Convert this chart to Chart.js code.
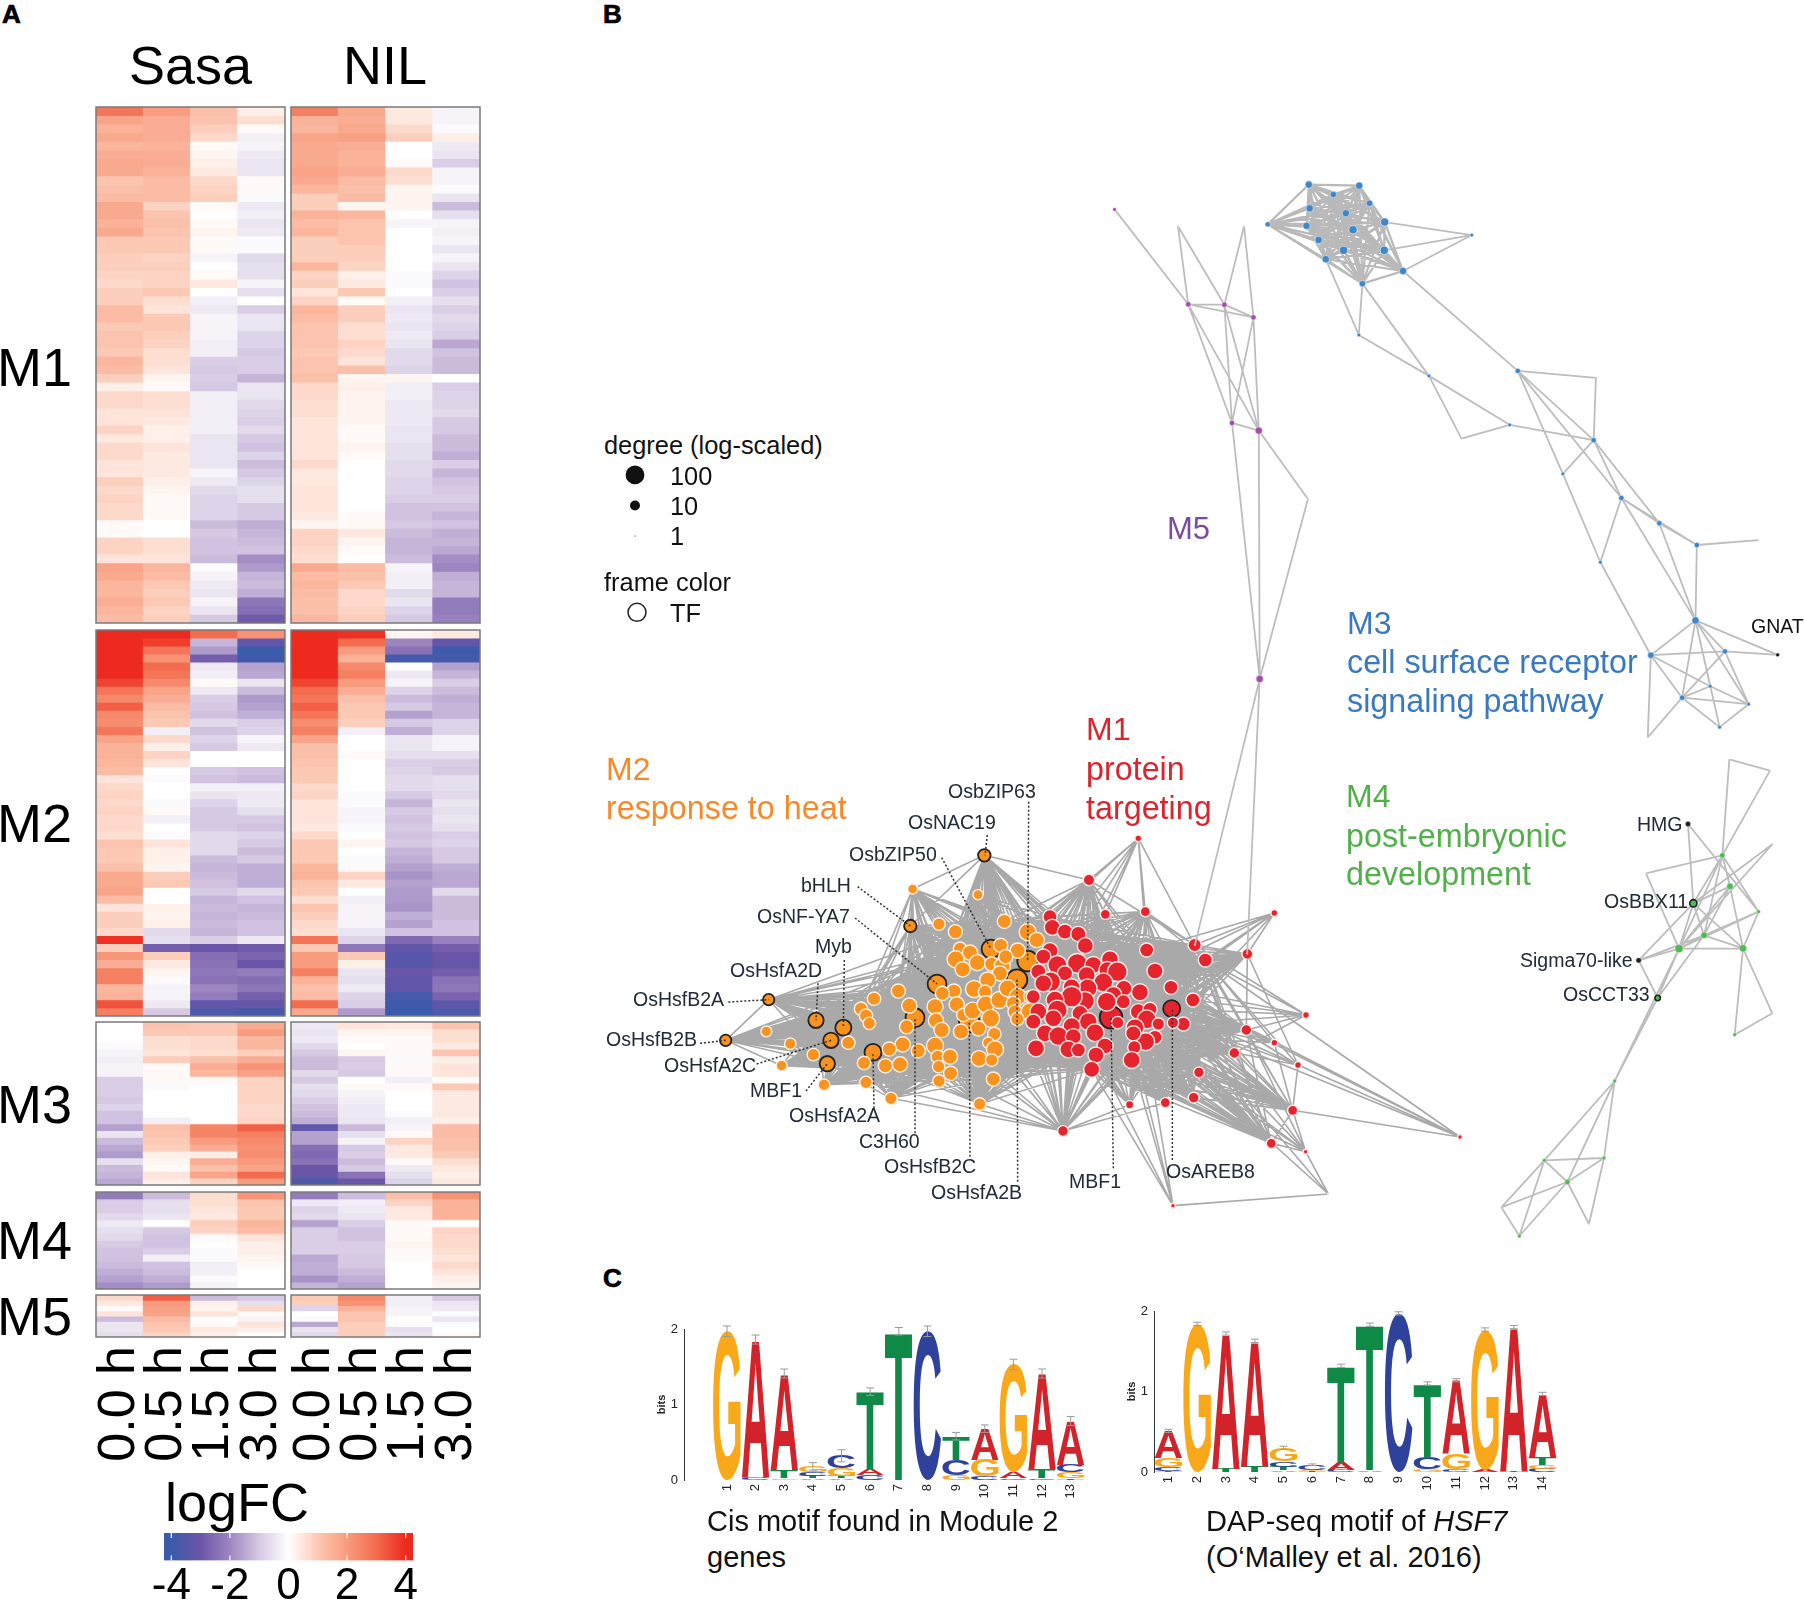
<!DOCTYPE html>
<html>
<head>
<meta charset="utf-8">
<title>Heat response modules</title>
<script src="https://cdn.jsdelivr.net/npm/chart.js@4"></script>
<style>
  html, body { margin: 0; padding: 0; background: #fff; }
  #page { position: relative; width: 1804px; height: 1600px; overflow: hidden; font-family: "Liberation Sans", Arial, sans-serif; }
  #page canvas { position: absolute; }
  .txt { position: absolute; white-space: nowrap; }
</style>
</head>
<body>
<div id="page"></div>
<script>
// Panel A: logFC per gene (row), one list per time point
const timeLabels = ['0.0 h', '0.5 h', '1.5 h', '3.0 h'];

const m1Sasa00 = [2.8,1.8,1.5,1.7,1.4,1.6,1.7,1.7,1.1,1.2,1.3,1.7,1.7,1.5,1.7,1.0,1.0,0.9,0.9,0.8,0.7,0.9,0.9,1.3,1.3,1.0,1.1,1.1,1.0,1.4,1.3,0.9,0.3,0.7,0.7,0.5,0.5,0.8,0.4,0.7,0.7,0.5,0.5,0.9,0.7,0.8,0.7,0.7,0.1,0.1,0.8,0.8,0.5,1.8,1.7,1.4,1.4,1.6,1.4,1.3];
const m1Sasa05 = [2.0,1.6,1.6,1.6,1.5,1.6,1.6,1.5,1.3,1.3,1.3,0.8,1.1,1.2,1.1,1.0,1.0,0.8,0.9,0.8,0.8,1.0,0.6,0.5,1.0,1.0,0.9,0.8,0.6,0.6,0.5,0.2,0.1,0.6,0.6,0.5,0.4,0.3,0.3,0.5,0.4,0.4,0.4,0.3,0.2,0.1,0.1,0.1,0.0,0.0,0.6,0.6,0.5,1.4,1.3,1.0,0.9,1.0,0.8,0.9];
const m1Sasa15 = [1.2,1.1,0.9,0.7,0.1,0.2,0.3,0.4,0.7,0.8,0.9,0.1,0.0,0.1,0.2,0.1,0.1,-0.2,0.0,0.1,0.4,0.0,-0.3,-0.4,-0.2,-0.2,-0.2,-0.3,-0.3,-0.9,-1.0,-0.9,-1.0,-0.3,-0.3,-0.3,-0.3,-0.3,-0.5,-0.5,-0.5,-0.5,-0.2,-0.4,-0.7,-0.8,-0.8,-0.8,-1.2,-1.0,-1.1,-1.1,-1.2,-0.1,-0.2,-0.4,-0.5,-0.2,-0.5,-1.0];
const m1Sasa30 = [0.3,0.6,0.1,-0.3,-0.2,-0.4,-0.5,-0.5,0.1,0.1,-0.1,-0.4,-0.3,-0.5,-0.4,-0.1,-0.1,-0.7,-0.6,-0.6,-0.2,-0.6,0.0,-0.9,-0.5,-0.5,-0.8,-0.8,-1.0,-0.9,-0.9,-1.3,-0.5,-0.5,-0.7,-0.8,-0.9,-0.7,-1.0,-1.1,-0.8,-1.2,-1.0,-0.8,-0.6,-0.6,-1.0,-1.0,-1.4,-1.3,-1.2,-1.1,-1.9,-1.7,-1.3,-1.2,-1.4,-2.3,-2.5,-2.9];
const m1Nil00 = [2.6,1.5,1.4,1.8,1.7,1.7,1.7,1.8,1.7,1.4,0.9,0.9,1.5,1.3,1.4,0.9,0.9,0.9,1.4,0.8,0.9,0.5,0.8,1.4,1.3,1.1,1.1,1.1,1.0,1.1,1.1,1.2,0.7,0.7,0.6,0.6,0.5,0.5,0.5,0.5,0.5,0.7,0.4,0.4,0.5,0.5,0.5,0.4,0.2,0.8,0.8,0.7,0.6,1.7,1.3,1.4,1.3,1.2,1.2,1.4];
const m1Nil05 = [1.7,1.6,1.7,1.9,1.6,1.5,1.5,1.6,1.3,1.2,1.3,0.2,1.4,1.1,1.1,1.1,0.9,0.9,0.8,0.3,0.4,1.0,0.1,0.9,0.9,0.6,0.6,0.8,0.7,0.5,1.2,0.2,0.3,0.2,0.2,0.2,0.2,0.1,0.1,0.2,0.1,0.0,0.0,0.0,0.0,0.0,0.0,0.1,0.1,0.4,0.2,0.1,0.0,1.3,1.2,1.0,0.7,0.7,0.8,0.9];
const m1Nil15 = [0.4,0.4,0.7,0.9,0.0,0.0,0.1,0.7,0.6,0.2,0.2,0.2,0.0,-0.2,0.0,0.0,0.0,0.0,0.0,-0.1,-0.1,0.0,-0.3,-0.5,-0.4,-0.5,-0.4,-0.5,-0.7,-0.7,-0.8,0.2,-0.3,-0.3,-0.4,-0.4,-0.4,-0.5,-0.5,-0.6,-0.6,-0.7,-0.7,-0.8,-0.8,-0.9,-1.1,-1.1,-1.0,-1.2,-1.3,-1.3,-1.2,-0.2,-0.3,-0.3,-0.7,-0.5,-0.8,-1.0];
const m1Nil30 = [-0.2,-0.2,-0.1,0.3,-0.4,-0.5,-0.9,-0.2,-0.2,-0.1,-0.5,-1.2,-0.6,-0.2,-0.3,-0.2,-0.5,-0.2,-0.5,-0.8,-1.1,-0.9,-0.6,-0.9,-0.7,-0.8,-0.9,-1.5,-1.1,-1.2,-1.2,0.0,-0.9,-0.8,-0.8,-0.7,-1.0,-1.0,-1.2,-1.2,-1.4,-0.9,-1.3,-1.1,-1.0,-0.9,-1.1,-1.3,-1.1,-1.4,-1.3,-1.5,-1.9,-2.0,-1.4,-1.3,-1.3,-2.2,-2.2,-2.1];

const m2Sasa00 = [4.3,4.3,4.3,4.0,4.2,4.2,3.6,2.8,2.4,3.2,2.4,2.3,2.8,1.8,1.5,1.5,1.4,1.3,0.5,0.7,0.8,0.7,0.8,0.7,0.7,0.6,1.1,1.0,1.0,1.2,1.7,1.7,1.8,1.3,0.5,0.9,0.9,0.7,3.9,0.9,2.1,1.6,2.6,2.6,1.4,1.5,3.4,2.6];
const m2Sasa05 = [4.2,3.7,2.8,2.2,3.0,2.8,2.4,1.8,1.6,1.3,1.1,1.0,-0.3,0.7,0.3,0.8,0.5,0.0,-0.1,0.0,0.0,-0.1,0.1,-0.3,0.0,-0.1,0.5,0.3,0.3,0.2,0.9,1.0,0.0,0.0,0.3,0.2,0.3,-0.7,-0.6,-2.8,0.9,0.4,0.2,-0.1,-0.2,-0.2,-0.4,-1.0];
const m2Sasa15 = [3.0,-1.3,-1.7,-2.8,-0.4,-0.3,0.1,-0.4,-0.9,-1.0,-1.1,-0.7,-1.1,-0.8,-1.0,0.0,0.0,-1.0,-1.1,-0.3,-0.5,-0.8,-1.0,-1.0,-1.0,-0.7,-0.7,-0.7,-1.2,-1.3,-1.2,-1.1,-1.0,-1.3,-1.2,-1.3,-1.2,-1.3,-0.9,-3.0,-2.5,-2.4,-2.3,-2.4,-2.0,-2.2,-3.2,-3.6];
const m2Sasa30 = [2.2,-3.2,-4.0,-3.9,-1.6,-1.5,-0.5,-1.2,-1.7,-1.6,-1.4,-0.9,-0.8,-0.2,-0.4,0.0,0.0,-1.1,-1.2,-0.3,-0.4,-0.4,-0.6,-1.0,-1.1,-0.8,-1.0,-1.2,-1.0,-1.4,-1.4,-1.4,-0.7,-1.1,-1.3,-1.2,-1.1,-1.1,-0.4,-2.9,-2.7,-3.0,-2.2,-2.5,-2.3,-2.8,-3.1,-3.7];
const m2Nil00 = [4.3,4.3,4.3,4.0,4.2,4.1,3.6,3.0,2.8,3.2,2.8,2.3,2.6,1.8,1.2,1.2,1.1,1.0,1.0,0.7,0.8,0.5,0.5,0.5,0.4,0.7,1.0,1.0,1.0,1.4,1.5,1.1,1.0,0.6,1.1,0.9,0.7,0.6,2.8,1.0,2.0,2.0,2.6,1.5,1.2,1.3,3.0,1.7];
const m2Nil05 = [3.9,3.0,2.0,1.5,2.4,2.6,2.0,1.6,1.2,1.0,1.0,0.9,-0.3,0.0,0.0,0.1,0.0,0.0,0.0,0.0,-0.1,-0.1,-0.2,-0.2,-0.1,0.0,0.2,0.0,-0.1,0.1,0.8,0.4,0.0,-0.3,-0.2,-0.2,-0.2,-0.5,-0.8,-2.3,1.0,0.3,-0.5,-0.6,-0.4,-0.8,-0.9,-1.7];
const m2Nil15 = [0.2,-2.0,-2.4,-3.8,0.0,-0.4,-0.2,-0.8,-1.2,-1.0,-1.6,-1.0,-1.4,-0.5,-0.5,-0.6,-0.9,-0.8,-0.7,-0.7,-1.0,-1.3,-1.0,-1.1,-1.0,-1.1,-1.0,-1.3,-1.4,-1.6,-1.8,-1.6,-1.7,-1.7,-1.8,-1.4,-1.6,-1.1,-2.6,-3.2,-3.4,-3.4,-3.0,-3.2,-3.2,-3.8,-3.9,-4.2];
const m2Nil30 = [0.4,-3.2,-3.9,-3.8,-1.6,-1.3,-0.9,-1.2,-1.4,-1.3,-1.3,-0.8,-0.8,-0.2,-0.2,-0.6,-0.9,-1.0,-0.6,-0.6,-0.7,-0.5,-0.6,-0.5,-0.6,-0.9,-0.8,-1.0,-1.0,-1.4,-1.5,-1.5,-0.7,-1.2,-1.2,-1.2,-1.1,-1.1,-2.1,-2.8,-3.0,-3.1,-2.8,-2.4,-2.3,-2.7,-3.3,-3.6];

const m3Sasa00 = [0.0,0.0,0.0,-0.1,-0.2,-0.3,-0.2,-0.2,-0.9,-0.9,-0.9,-1.0,-0.8,-1.1,-1.1,-1.6,-0.5,-1.2,-1.5,-1.7,-0.6,-1.2,-1.3,-1.5];
const m3Sasa05 = [1.1,1.0,0.6,0.6,0.5,0.9,0.1,0.1,0.1,-0.1,0.0,0.0,0.0,0.0,-0.3,1.2,1.1,1.0,0.9,0.3,0.2,0.1,0.5,0.3];
const m3Sasa15 = [1.0,1.0,0.7,0.7,0.6,1.2,1.6,1.4,0.1,0.0,0.0,0.0,0.0,0.0,0.0,2.5,2.5,2.0,1.6,0.3,1.6,1.2,1.8,0.8];
const m3Sasa30 = [1.7,2.0,1.4,1.4,0.9,1.6,2.2,1.9,0.8,0.8,0.8,0.8,0.7,0.7,0.8,3.2,2.6,2.4,2.2,2.3,2.0,1.8,3.0,2.0];
const m3Nil00 = [-0.4,-0.5,-0.4,-0.7,-1.0,-1.2,-1.2,-0.7,-1.0,-0.6,-0.7,-0.9,-1.1,-1.2,-1.4,-3.2,-1.6,-1.6,-2.5,-2.6,-2.4,-3.0,-3.1,-3.6];
const m3Nil05 = [0.5,0.2,0.1,0.0,0.2,-1.0,-0.9,-1.0,0.0,0.1,-0.2,-0.3,-0.4,-0.4,-0.5,-1.2,-0.6,-0.2,-1.0,-0.9,-1.2,-1.0,-2.4,-3.0];
const m3Nil15 = [0.4,0.2,0.1,0.1,0.1,-0.1,0.1,0.1,-0.3,0.1,0.0,0.0,0.0,-0.1,-0.3,-0.2,0.1,0.8,0.4,0.4,0.1,-0.4,-0.6,-0.8];
const m3Nil30 = [1.1,0.6,0.6,0.4,1.1,0.3,0.5,0.5,0.1,1.0,0.4,0.4,0.4,0.4,0.3,1.3,1.3,1.2,1.2,1.0,0.6,0.4,0.3,0.4];

const m4Sasa00 = [-2.2,-0.9,-0.9,-0.7,-0.4,-0.6,-0.7,-1.0,-1.1,-1.1,-1.2,-1.4,-1.6,-1.9];
const m4Sasa05 = [-1.2,-0.6,-0.6,-0.5,0.0,-1.0,-1.1,-1.1,-0.9,-0.3,-1.1,-1.2,-1.4,-1.7];
const m4Sasa15 = [0.6,0.6,0.5,0.4,0.9,0.8,0.1,0.0,-0.1,-0.1,-0.3,-0.3,-0.1,-0.2];
const m4Sasa30 = [2.1,1.1,1.0,1.0,1.4,1.3,0.5,0.3,0.3,0.2,0.1,0.0,0.0,0.0];
const m4Nil00 = [-2.2,-0.4,-0.8,-0.7,-1.6,-0.9,-0.9,-0.9,-0.9,-1.5,-1.4,-1.4,-1.8,-1.3];
const m4Nil05 = [-1.2,-0.3,-0.4,-0.5,-0.9,-1.1,-1.1,-0.9,-0.9,-1.0,-1.0,-1.2,-1.4,-1.6];
const m4Nil15 = [1.2,0.8,0.4,0.4,0.1,0.1,0.1,0.2,0.1,0.1,0.0,0.0,0.0,0.0];
const m4Nil30 = [2.2,1.5,1.5,1.5,0.0,0.8,0.7,0.7,0.6,0.5,0.7,0.5,0.3,0.2];

const m5Sasa00 = [0.7,0.4,0.1,0.5,-1.2,-0.5,-0.5,-0.6];
const m5Sasa05 = [3.2,2.0,1.9,1.8,1.3,1.1,1.0,0.8];
const m5Sasa15 = [-1.2,0.3,0.2,0.5,0.0,0.1,0.4,0.3];
const m5Sasa30 = [-1.0,-0.6,0.7,0.1,-0.2,0.5,0.3,0.0];
const m5Nil00 = [1.0,0.9,-0.8,0.0,-0.1,-1.5,-0.5,-0.7];
const m5Nil05 = [2.4,2.2,1.5,1.1,1.1,0.9,0.9,0.9];
const m5Nil15 = [-0.3,-0.3,-0.2,-0.2,0.0,-0.1,-0.6,-0.5];
const m5Nil30 = [-1.0,-0.5,-0.4,-0.1,-0.5,-0.1,0.0,0.1];

const colorbarTicks = [-4, -2, 0, 2, 4];
const colorbarRange = [-4.25, 4.25];

// Panel B: network layouts and node degree
// M2 - the first 15 are the framed TFs
const m2X = [1183,961,1041,1203,1313,1281,1138,975,849,760,678,536,407,723,712,968,1164,1047,1096,1243,1313,1340,1232,1283,1110,1140,1097,1162,1118,1205,1237,1247,1230,1193,1152,1092,1057,925,852,813,828,838,958,1035,1185,1100,1120,1148,1187,1228,1253,1283,1320,1270,1275,1320,1282,1202,1038,950,1055,1113,1165,1213,1195,1035,938,898,985,1215,1043,1080,775,601,670,529,575,822,886,930,1167,1205,1046,1082,1047,1210,828,702,903,1169];
const m2Y = [286,498,672,567,603,659,787,773,877,803,781,719,841,841,911,387,404,492,515,484,516,540,556,572,566,578,598,608,628,612,618,590,640,660,687,693,700,693,716,746,767,790,737,740,695,733,765,752,733,720,685,710,710,730,755,755,777,775,782,800,810,815,805,822,848,857,853,867,872,868,890,890,848,851,884,814,917,909,917,913,896,900,920,940,963,957,967,974,1015,1032];
const m2Degree = [10,10,38,38,56,56,56,38,26,21,18,8,8,18,18,6,6,10,14,14,26,18,14,18,12,18,26,21,18,14,21,14,18,21,26,14,14,14,12,12,12,10,18,21,12,18,12,26,26,26,26,26,10,14,14,31,12,31,18,14,18,18,18,12,8,26,18,14,14,26,12,18,12,8,10,7,7,12,14,18,21,10,10,14,10,14,10,8,10,10];
// M1 - index 12 and 31 are the framed TFs
const m1X = [1645,1497,1546,1666,2053,1972,1814,1846,1670,1695,1743,1809,1745,1780,1749,2148,1969,2053,1933,2124,1827,1811,1726,1619,2108,2044,2147,1419,1749,2215,2610,1563,1380,1387,1425,1465,1486,1380,1360,1402,1462,1510,1560,1552,1582,1425,1345,1490,1382,1360,1602,1540,1493,1445,1650,1570,1485,1445,1395,1330,1550,1600,1402,1345,1470,1645,1680,1670,1495,1390,1330,1445,1705,1635,1583,1365,1405,1515,1450,1695,1667,1630,1545,1338,1435,1465,1518,1633,1625,1505];
const m1Y = [235,360,463,455,459,582,555,600,570,633,682,720,746,792,788,765,810,848,879,915,937,1013,1028,1034,1051,1150,1175,1113,1337,1302,1131,772,470,502,515,522,557,572,590,615,610,615,598,630,635,640,635,645,665,670,685,667,685,682,697,705,723,710,720,710,725,725,750,755,760,755,748,778,785,775,785,798,792,803,788,820,828,818,830,832,845,820,858,865,868,870,885,862,900,928];
const m1Degree = [3,8,6,6,3,7,12,14,14,21,14,14,26,14,8,3,7,3,7,3,7,7,6,4,6,6,2,7,2,1,2,83,14,21,18,18,21,21,18,38,46,26,26,26,46,18,18,26,46,26,21,38,38,26,26,26,38,56,31,14,38,14,46,26,21,21,14,38,31,26,18,26,10,31,10,26,38,31,21,14,31,18,21,26,26,14,21,12,26,21];
// sparse links that are readable in the picture
const m1Links = [[0,1],[0,2],[0,3],[3,8],[1,2],[4,5],[4,8],[5,6],[5,7],[5,16],[5,19],[15,16],[15,18],[16,30],[16,25],[16,26],[17,24],[19,24],[20,24],[21,24],[21,26],[20,25],[24,25],[24,26],[24,30],[25,26],[26,29],[28,29],[22,27],[23,27],[28,89],[28,86],[21,25]];
const crossLinks = [[0,1],[89,27],[88,27],[85,27],[86,27]]; // M2 index, M1 index
const m2Links = [[0,15],[11,12],[0,1],[15,1],[11,37],[12,75],[12,76]];

// M5 and M3 share one layout
const m5X = [55,220,301,366,197,345,318,378,488,380,235,352];
const m5Y = [103,351,352,385,147,147,661,681,860,1330,2025,2048];
const m5Degree = [2,3,3,3,1,1,3,5,1,5,1,1];
const m5Links = [[0,1],[4,1],[4,2],[5,2],[5,3],[1,2],[1,3],[2,3],[1,6],[1,7],[2,6],[2,7],[3,6],[3,7],[6,7],[6,9],[7,9],[7,8],[8,9],[9,10],[9,11]];

const m3X = [490,603,545,626,492,573,660,398,485,589,512,568,659,528,701,610,855,602,958,1133,759,940,832,1128,1059,1190,1275,1143,1359,1497,1356,1256,1422,1540,1389,1326,1475,1410,1249];
const m3Y = [38,41,64,87,100,113,136,142,146,156,183,210,210,233,264,297,170,431,525,543,538,666,702,706,794,857,923,1025,980,967,1177,1268,1258,1267,1349,1379,1396,1456,1483];
const m3Degree = [5,5,4,4,5,5,6,3,5,6,5,6,6,5,5,4,2,2,3,1,2,2,1,3,2,3,3,2,3,1,5,4,3,2,2,3,2,2,1];
const m3Links = [[6,16],[12,16],[14,16],[13,17],[15,17],[15,20],[17,20],[14,18],[20,22],[20,21],[22,21],[21,23],[18,19],[19,23],[18,23],[18,25],[18,24],[23,24],[24,27],[25,27],[23,25],[23,26],[25,26],[25,28],[26,28],[25,30],[26,30],[28,30],[28,29],[27,31],[30,31],[30,33],[30,32],[30,35],[30,34],[30,37],[30,36],[31,32],[32,33],[31,35],[31,34],[31,38],[38,35],[32,35],[34,35],[34,36],[35,36],[35,37],[32,36],[36,37]];

const m4X = [624,727,750,640,836,672,597,789,476,533,404,193,372,262,64,118,748,870,878,498,877,764,327];
const m4Y = [252,346,439,490,515,586,626,625,661,774,1023,1261,1254,1326,1402,1488,58,92,312,400,820,884,1452];
const m4Degree = [3,3,4,5,2,4,6,5,3,3,2,2,2,3,1,2,1,1,1,1,1,2,1];
const m4Links = [[16,17],[16,1],[17,1],[0,3],[0,4],[1,19],[19,6],[1,3],[1,5],[1,6],[1,2],[1,4],[2,3],[2,5],[2,6],[2,7],[18,3],[18,6],[3,5],[3,6],[3,7],[3,8],[4,5],[4,6],[4,7],[5,6],[5,7],[5,9],[6,7],[6,8],[6,9],[6,10],[8,9],[9,10],[5,8],[7,20],[7,21],[20,21],[10,11],[10,13],[10,12],[11,12],[11,13],[11,14],[11,15],[12,13],[13,14],[13,15],[13,22],[12,22],[14,15]];

// dotted leader lines from a label to its gene: startX, startY, node X, node Y
const leaderFromX = [1316,1192,1055,803,795,763,684,415,330,500,648,852,975,1140,1283,1570,1747];
const leaderFromY = [125,225,293,380,474,600,670,726,850,912,993,1045,1120,1190,1265,1225,1200];
const leaderToX = [1313,1185,1203,961,1041,760,678,536,407,723,712,849,975,1138,1281,1563,1747];
const leaderToY = [603,286,567,498,672,803,781,719,841,841,911,877,773,787,659,772,746];

const legendDegrees = [100, 10, 1];

// Panel C: sequence logos, bits per letter at each position
const logo1Positions = ['1','2','3','4','5','6','7','8','9','10','11','12','13'];
const logo1A = [0,1.83,1.28,0.02,0.02,0.08,0,0,0,0.41,0.08,1.27,0.58];
const logo1C = [0,0.03,0,0.05,0.17,0.06,0,1.97,0.21,0.05,0.02,0.02,0.10];
const logo1G = [1.97,0,0.02,0.08,0.10,0,0,0,0.06,0.22,1.43,0,0.08];
const logo1T = [0,0,0.11,0.03,0.03,1.03,1.97,0,0.31,0,0,0.12,0.02];
const logo1Err = [0.07,0.06,0.06,0.05,0.08,0.05,0.05,0.07,0.05,0.05,0.07,0.06,0.06];

const logo2Positions = ['1','2','3','4','5','6','7','8','9','10','11','12','13','14'];
const logo2A = [0.33,0,1.68,1.55,0.02,0,0.10,0.02,0,0,0.92,0.03,1.79,0.79];
const logo2C = [0.05,0,0,0,0.07,0.06,0.03,0,1.97,0.15,0.03,0,0,0.04];
const logo2G = [0.12,1.84,0,0,0.17,0.02,0,0,0,0.03,0.19,1.74,0,0.05];
const logo2T = [0.01,0,0.04,0.08,0.04,0.01,1.19,1.81,0,0.92,0,0,0.01,0.09];
const logo2Err = [0.02,0.02,0.02,0.02,0.02,0.01,0.02,0.02,0.02,0.02,0.02,0.02,0.02,0.02];

// ---------- helpers ----------
Chart.defaults.animation = false;
Chart.defaults.font.family = '"Liberation Sans", Arial, sans-serif';
Chart.defaults.plugins.legend.display = false;
Chart.defaults.plugins.tooltip.enabled = false;
Chart.defaults.events = [];

const page = document.getElementById('page');

function addCanvas(left, top, width, height) {
    const c = document.createElement('canvas');
    c.width = width;
    c.height = height;
    c.style.left = left + 'px';
    c.style.top = top + 'px';
    c.style.width = width + 'px';
    c.style.height = height + 'px';
    page.appendChild(c);
    return c;
}

function addText(html, left, baseline, size, color, extra) {
    const d = document.createElement('div');
    d.className = 'txt';
    d.innerHTML = html;
    d.style.left = left + 'px';
    d.style.top = (baseline - size * 0.8465) + 'px';
    d.style.fontSize = size + 'px';
    d.style.lineHeight = size + 'px';
    d.style.color = color || '#000';
    if (extra) d.style.cssText += extra;
    page.appendChild(d);
}

const colorStops = [
    [-4, [59, 91, 171]], [-3, [107, 85, 168]], [-2, [157, 134, 192]], [-1, [214, 201, 227]],
    [0, [255, 255, 255]], [1, [252, 201, 180]], [2, [248, 155, 126]], [3, [243, 108, 78]], [4, [238, 42, 31]]
];

function logfcColor(v) {
    v = Math.max(-4, Math.min(4, v));
    for (let i = 0; i < colorStops.length - 1; i++) {
        const a = colorStops[i], b = colorStops[i + 1];
        if (v <= b[0]) {
            const t = (v - a[0]) / (b[0] - a[0]);
            const rgb = a[1].map((c, k) => Math.round(c + (b[1][k] - c) * t));
            return `rgb(${rgb[0]},${rgb[1]},${rgb[2]})`;
        }
    }
    return 'rgb(238,42,31)';
}

const frameBox = {
    id: 'frameBox',
    afterDraw(chart) {
        const a = chart.chartArea, ctx = chart.ctx;
        ctx.save();
        ctx.strokeStyle = '#7a7a7a';
        ctx.lineWidth = 1.5;
        ctx.strokeRect(a.left, a.top, a.right - a.left, a.bottom - a.top);
        ctx.restore();
    }
};

// One heatmap block: a stacked bar per gene row, one unit tall, coloured by logFC
function makeHeatmap(left, top, width, height, columns, showAxis) {
    const padX = 6, padY = 2, axisH = showAxis ? 128 : 0;
    const canvas = addCanvas(left - padX, top - padY, width + padX * 2, height + padY * 2 + axisH);
    const nRows = columns[0].length;
    const datasets = [];
    for (let r = 0; r < nRows; r++) {
        datasets.push({
            data: columns.map(() => 1),
            backgroundColor: columns.map(col => logfcColor(col[r])),
            borderWidth: 0,
            barPercentage: 1,
            categoryPercentage: 1,
            inflateAmount: 0.4
        });
    }
    new Chart(canvas, {
        type: 'bar',
        data: { labels: timeLabels, datasets },
        options: {
            responsive: false,
            layout: { padding: { left: padX, right: padX, top: padY, bottom: padY } },
            scales: {
                x: {
                    stacked: true,
                    display: showAxis,
                    grid: { display: false, drawTicks: false },
                    border: { display: false },
                    afterFit(axis) {
                        axis.height = axisH;
                        axis.paddingLeft = 0;
                        axis.paddingRight = 0;
                    },
                    ticks: { color: '#000', font: { size: 52 }, minRotation: 90, maxRotation: 90, padding: 9, autoSkip: false }
                },
                y: { stacked: true, display: false, reverse: true, min: 0, max: nRows }
            }
        },
        plugins: [frameBox]
    });
}

const panelW = 189;
const rowsTop = [[107, 516], [630, 386], [1022, 163], [1192, 96.5], [1295, 42]];
const leftX = 96, rightX = 290.5;
makeHeatmap(leftX, rowsTop[0][0], panelW, rowsTop[0][1], [m1Sasa00, m1Sasa05, m1Sasa15, m1Sasa30], false);
makeHeatmap(rightX, rowsTop[0][0], panelW, rowsTop[0][1], [m1Nil00, m1Nil05, m1Nil15, m1Nil30], false);
makeHeatmap(leftX, rowsTop[1][0], panelW, rowsTop[1][1], [m2Sasa00, m2Sasa05, m2Sasa15, m2Sasa30], false);
makeHeatmap(rightX, rowsTop[1][0], panelW, rowsTop[1][1], [m2Nil00, m2Nil05, m2Nil15, m2Nil30], false);
makeHeatmap(leftX, rowsTop[2][0], panelW, rowsTop[2][1], [m3Sasa00, m3Sasa05, m3Sasa15, m3Sasa30], false);
makeHeatmap(rightX, rowsTop[2][0], panelW, rowsTop[2][1], [m3Nil00, m3Nil05, m3Nil15, m3Nil30], false);
makeHeatmap(leftX, rowsTop[3][0], panelW, rowsTop[3][1], [m4Sasa00, m4Sasa05, m4Sasa15, m4Sasa30], false);
makeHeatmap(rightX, rowsTop[3][0], panelW, rowsTop[3][1], [m4Nil00, m4Nil05, m4Nil15, m4Nil30], false);
makeHeatmap(leftX, rowsTop[4][0], panelW, rowsTop[4][1], [m5Sasa00, m5Sasa05, m5Sasa15, m5Sasa30], true);
makeHeatmap(rightX, rowsTop[4][0], panelW, rowsTop[4][1], [m5Nil00, m5Nil05, m5Nil15, m5Nil30], true);

// colour key
new Chart(addCanvas(134, 1533, 309, 70), {
    type: 'bar',
    data: {
        labels: ['logFC'],
        datasets: [{
            data: [colorbarRange],
            barPercentage: 1,
            categoryPercentage: 1,
            backgroundColor(ctx) {
                const area = ctx.chart.chartArea;
                if (!area) return '#fff';
                const g = ctx.chart.ctx.createLinearGradient(area.left, 0, area.right, 0);
                const span = colorbarRange[1] - colorbarRange[0];
                g.addColorStop(0, logfcColor(-4));
                colorStops.forEach(s => g.addColorStop((s[0] - colorbarRange[0]) / span, logfcColor(s[0])));
                g.addColorStop(1, logfcColor(4));
                return g;
            }
        }]
    },
    options: {
        indexAxis: 'y',
        responsive: false,
        layout: { padding: { left: 30, right: 30, top: 0, bottom: 0 } },
        scales: {
            y: { display: false },
            x: {
                min: colorbarRange[0],
                max: colorbarRange[1],
                grid: { display: false, drawTicks: false },
                border: { display: false },
                afterBuildTicks(axis) { axis.ticks = colorbarTicks.map(v => ({ value: v })); },
                afterFit(axis) { axis.height = 42.5; },
                ticks: { color: '#000', font: { size: 44 }, padding: 0, maxRotation: 0, autoSkip: false, callback: v => String(v) }
            }
        }
    },
    plugins: [{
        id: 'keyTicks',
        afterDatasetsDraw(chart) {
            const { ctx, chartArea: a, scales } = chart;
            ctx.save();
            ctx.strokeStyle = '#fff';
            ctx.lineWidth = 1.2;
            colorbarTicks.forEach(v => {
                const x = scales.x.getPixelForValue(v);
                ctx.beginPath();
                ctx.moveTo(x, a.top); ctx.lineTo(x, a.top + 5);
                ctx.moveTo(x, a.bottom - 5); ctx.lineTo(x, a.bottom);
                ctx.stroke();
            });
            ctx.restore();
        }
    }]
});

// ---------- networks ----------
const nodeRadius = d => 0.6 + 4.4 * Math.log10(d);

function segments(links, xs, ys) {
    const out = [];
    links.forEach(([a, b]) => {
        out.push({ x: xs[a], y: ys[a] }, { x: xs[b], y: ys[b] }, { x: NaN, y: NaN });
    });
    return out;
}

function edgeSet(data, color, width) {
    return { data, showLine: true, spanGaps: false, pointRadius: 0, borderColor: color, borderWidth: width, order: 5 };
}

function nodeSet(xs, ys, degrees, fill, borderFor, widthFor, order, grow) {
    return {
        data: xs.map((x, i) => ({ x, y: ys[i] })),
        showLine: false,
        pointRadius: degrees.map(d => nodeRadius(d) * (grow || 1)),
        backgroundColor: Array.isArray(fill) ? fill : xs.map(() => fill),
        pointBorderColor: xs.map((x, i) => borderFor(i)),
        pointBorderWidth: xs.map((x, i) => widthFor(i)),
        order
    };
}

function overlayChart(left, top, width, height, xMax, yMax, datasets) {
    return new Chart(addCanvas(left, top, width, height), {
        type: 'scatter',
        data: { datasets },
        options: {
            responsive: false,
            layout: { autoPadding: false },
            scales: {
                x: { display: false, min: 0, max: xMax },
                y: { display: false, min: 0, max: yMax, reverse: true }
            }
        }
    });
}

// The dense hairball cannot be read edge by edge, so each node joins its nearest well-connected neighbours, as many as its degree says
const coreX = m2X.concat(m1X), coreY = m2Y.concat(m1Y), coreDeg = m2Degree.concat(m1Degree);
const coreLinks = [];
coreX.forEach((x, i) => {
    const k = coreDeg[i] <= 3 ? coreDeg[i] * 2 : Math.round(coreDeg[i] * 5);
    coreX.map((xx, j) => [j, Math.hypot(xx - x, coreY[j] - coreY[i])])
        .filter(p => p[0] !== i && coreDeg[p[0]] >= 12)
        .sort((a, b) => a[1] - b[1])
        .slice(0, k)
        .forEach(p => coreLinks.push([i, p[0]]));
});
const m1Start = m2X.length;
m2Links.forEach(l => coreLinks.push(l));
m1Links.forEach(l => coreLinks.push([l[0] + m1Start, l[1] + m1Start]));
crossLinks.forEach(l => coreLinks.push([l[0], l[1] + m1Start]));

const leaders = leaderFromX.flatMap((x, i) => [{ x, y: leaderFromY[i] }, { x: leaderToX[i], y: leaderToY[i] }, { x: NaN, y: NaN }]);
const isM1Tf = i => i === 12 || i === 31;
const isM2Tf = i => i < 15;

overlayChart(590, 760, 890, 480, 2670, 1440, [
    edgeSet(segments(coreLinks, coreX, coreY), '#a9a9a9', 1.6),
    nodeSet(m2X, m2Y, m2Degree, '#f7931e', i => isM2Tf(i) ? '#222' : '#fdf0e0', i => isM2Tf(i) ? 1.8 : 1.4, 3, 1.25),
    nodeSet(m1X, m1Y, m1Degree, '#e5242d', i => isM1Tf(i) ? '#222' : '#fde8e8', i => isM1Tf(i) ? 1.8 : 1.4, 2, 1.25),
    { data: leaders, showLine: true, spanGaps: false, pointRadius: 0, borderColor: '#333', borderWidth: 1.5, borderDash: [2, 2], order: 1 }
]);

const clusterLinks = [];
for (let a = 0; a < 16; a++) for (let b = a + 1; b < 16; b++) clusterLinks.push([a, b]);

overlayChart(1090, 170, 714, 830, 1599, 2169, [
    edgeSet(segments(m5Links, m5X, m5Y), '#bdbdbd', 1.8),
    edgeSet(segments(clusterLinks, m3X, m3Y), '#b9b9b9', 2.2),
    edgeSet(segments(m3Links, m3X, m3Y), '#bdbdbd', 1.8),
    nodeSet(m5X, m5Y, m5Degree, '#a24fa8', () => '#fff', () => 0.5, 3),
    nodeSet(m3X, m3Y, m3Degree, m3X.map((x, i) => i === 33 ? '#111' : '#3f87c8'), () => '#fff', () => 0.5, 3)
]);

const m4Black = [0, 8];
const m4Framed = [3, 9];
overlayChart(1480, 740, 324, 520, 972, 1560, [
    edgeSet(segments(m4Links, m4X, m4Y), '#bdbdbd', 1.8),
    nodeSet(m4X, m4Y, m4Degree, m4X.map((x, i) => m4Black.includes(i) ? '#222' : '#4dbb52'),
        i => m4Framed.includes(i) ? '#222' : '#fff', i => m4Framed.includes(i) ? 1.6 : 0.4, 2)
]);

// degree / frame legend
new Chart(addCanvas(615, 460, 40, 170), {
    type: 'scatter',
    data: {
        datasets: [
            { data: legendDegrees.map((d, i) => ({ x: 0, y: i })), pointRadius: legendDegrees.map(nodeRadius), backgroundColor: '#111', borderWidth: 0 },
            { data: [{ x: 0.1, y: 4.5 }], pointRadius: 9, backgroundColor: '#fff', borderColor: '#222', borderWidth: 1.5 }
        ]
    },
    options: {
        responsive: false,
        layout: { autoPadding: false },
        scales: {
            x: { display: false, min: -1, max: 1 },
            y: { display: false, min: -0.49, max: 5.08, reverse: true }
        }
    }
});

// ---------- sequence logos ----------
const letterColor = { A: '#d2232a', C: '#2f429b', G: '#f9a81a', T: '#0f8a46' };

const logoLetters = {
    id: 'logoLetters',
    afterDatasetsDraw(chart) {
        const ctx = chart.ctx;
        chart.data.datasets.forEach((ds, d) => {
            chart.getDatasetMeta(d).data.forEach((bar, i) => {
                const letter = ds.letters[i];
                const { x, y, base, width } = bar.getProps(['x', 'y', 'base', 'width'], true);
                const h = Math.abs(base - y);
                if (!letter || h < 0.3) return;
                ctx.save();
                ctx.font = 'bold 100px "Liberation Sans"';
                ctx.fillStyle = letterColor[letter];
                const m = ctx.measureText(letter);
                const inkW = m.actualBoundingBoxLeft + m.actualBoundingBoxRight;
                const inkH = m.actualBoundingBoxAscent + m.actualBoundingBoxDescent;
                ctx.translate(x - width / 2, Math.max(base, y));
                ctx.scale(width / inkW, h / inkH);
                ctx.fillText(letter, m.actualBoundingBoxLeft, -m.actualBoundingBoxDescent);
                ctx.restore();
            });
        });
    }
};

const logoWhiskers = {
    id: 'logoWhiskers',
    afterDatasetsDraw(chart) {
        const { ctx, scales } = chart;
        const errs = chart.options.plugins.logoWhiskers.errs;
        const totals = chart.options.plugins.logoWhiskers.totals;
        ctx.save();
        ctx.strokeStyle = '#9a9a9a';
        ctx.lineWidth = 1;
        errs.forEach((e, i) => {
            if (e === null) return;
            const x = scales.x.getPixelForValue(i);
            const y0 = scales.y.getPixelForValue(totals[i] - e);
            const y1 = scales.y.getPixelForValue(totals[i] + e);
            ctx.beginPath();
            ctx.moveTo(x, y0); ctx.lineTo(x, y1);
            ctx.moveTo(x - 4, y1); ctx.lineTo(x + 4, y1);
            ctx.moveTo(x - 4, y0); ctx.lineTo(x + 4, y0);
            ctx.stroke();
        });
        ctx.restore();
    }
};

// Letters go smallest first at each position, so the stacks are built in layers
function makeLogo(left, top, axisW, plotW, plotH, labels, a, c, g, t, errs) {
    const names = ['A', 'C', 'G', 'T'], series = [a, c, g, t];
    const layers = [0, 1, 2, 3].map(() => ({ data: [], letters: [] }));
    const offset = labels.length - a.length;
    labels.forEach((lab, i) => {
        const p = i - offset;
        const order = names.map((n, k) => [n, p < 0 ? 0 : series[k][p]]).sort((u, v) => u[1] - v[1]);
        order.forEach((o, k) => { layers[k].data.push(o[1]); layers[k].letters.push(o[0]); });
    });
    const totals = labels.map((lab, i) => layers.reduce((sum, l) => sum + l.data[i], 0));
    const padTop = 12, axisH = 30;
    const canvas = addCanvas(left, top - padTop, axisW + plotW + 4, plotH + padTop + axisH);
    new Chart(canvas, {
        type: 'bar',
        data: {
            labels,
            datasets: layers.map(l => ({
                data: l.data, letters: l.letters, backgroundColor: 'rgba(0,0,0,0)', barPercentage: 0.96, categoryPercentage: 1
            }))
        },
        options: {
            responsive: false,
            layout: { padding: { top: padTop, right: 4, left: 0, bottom: 0 } },
            plugins: { logoWhiskers: { errs: new Array(offset).fill(null).concat(errs), totals } },
            scales: {
                x: {
                    stacked: true,
                    grid: { display: false, drawTicks: false },
                    border: { display: false },
                    afterFit(axis) { axis.height = axisH; axis.paddingLeft = 0; axis.paddingRight = 0; },
                    ticks: { color: '#222', font: { size: 13 }, minRotation: 90, maxRotation: 90, padding: 4, autoSkip: false }
                },
                y: {
                    stacked: true,
                    min: 0,
                    max: 2,
                    grid: { display: false, tickLength: 5, tickColor: '#333' },
                    border: { display: true, color: '#333' },
                    afterBuildTicks(axis) { axis.ticks = [{ value: 0 }, { value: 1 }, { value: 2 }]; },
                    afterFit(axis) { axis.width = axisW; },
                    title: { display: true, text: 'bits', color: '#222', font: { size: 11, weight: 'bold' }, padding: 0 },
                    ticks: { color: '#222', font: { size: 13 }, padding: 1 }
                }
            }
        },
        plugins: [logoLetters, logoWhiskers]
    });
}

makeLogo(655, 1329, 29, 401.4, 151, [''].concat(logo1Positions), logo1A, logo1C, logo1G, logo1T, logo1Err);
makeLogo(1125, 1311, 29, 403, 161, logo2Positions, logo2A, logo2C, logo2G, logo2T, logo2Err);

// ---------- text ----------
const BLACK = '#111', M1C = '#d9262e', M2C = '#f58a2b', M3C = '#3a79bd', M4C = '#52b04a', M5C = '#7b4a9e', NODE = '#222b3a';
const PANEL = 'font-weight:bold;-webkit-text-stroke:0.7px #000;';

addText('A', 2, 23, 26, '#000', PANEL);
addText('B', 603, 23, 26, '#000', PANEL);
addText('C', 603, 1287, 26, '#000', PANEL);

addText('Sasa', 129, 84, 54);
addText('NIL', 343, 84, 54);
addText('M1', -3, 386, 54);
addText('M2', -3, 842, 54);
addText('M3', -3, 1123, 54);
addText('M4', -3, 1259, 54);
addText('M5', -3, 1335, 54);
addText('logFC', 165, 1521, 54);

addText('degree (log-scaled)', 604, 455, 25.4, BLACK);
addText('100', 670, 486, 25.4, BLACK);
addText('10', 670, 516, 25.4, BLACK);
addText('1', 670, 546, 25.4, BLACK);
addText('frame color', 604, 592, 25.4, BLACK);
addText('TF', 670, 623, 25.4, BLACK);

addText('M5', 1167, 539, 31, M5C);
addText('M3', 1347, 634, 32, M3C);
addText('cell surface receptor', 1347, 673, 32.3, M3C);
addText('signaling pathway', 1347, 712, 32.3, M3C);
addText('M4', 1346, 807, 32, M4C);
addText('post-embryonic', 1346, 847, 32.3, M4C);
addText('development', 1346, 885, 32.3, M4C);
addText('M1', 1086, 740, 32, M1C);
addText('protein', 1086, 780, 32.3, M1C);
addText('targeting', 1086, 819, 32.3, M1C);
addText('M2', 606, 780, 32, M2C);
addText('response to heat', 606, 819, 32.3, M2C);

addText('OsbZIP63', 948, 799, 19.5, NODE);
addText('OsNAC19', 908, 830, 19.5, NODE);
addText('OsbZIP50', 849, 862, 19.5, NODE);
addText('bHLH', 801, 893, 19.5, NODE);
addText('OsNF-YA7', 757, 924, 19.5, NODE);
addText('Myb', 815, 954, 19.5, NODE);
addText('OsHsfA2D', 730, 978, 19.5, NODE);
addText('OsHsfB2A', 633, 1007, 19.5, NODE);
addText('OsHsfB2B', 606, 1047, 19.5, NODE);
addText('OsHsfA2C', 664, 1073, 19.5, NODE);
addText('MBF1', 750, 1098, 19.5, NODE);
addText('OsHsfA2A', 789, 1123, 19.5, NODE);
addText('C3H60', 859, 1149, 19.5, NODE);
addText('OsHsfB2C', 884, 1174, 19.5, NODE);
addText('OsHsfA2B', 931, 1200, 19.5, NODE);
addText('MBF1', 1069, 1189, 19.5, NODE);
addText('OsAREB8', 1166, 1179, 19.5, NODE);
addText('GNAT', 1751, 634, 19.5, '#111');
addText('HMG', 1637, 832, 19.5, NODE);
addText('OsBBX11', 1604, 909, 19.5, NODE);
addText('Sigma70-like', 1520, 968, 19.5, NODE);
addText('OsCCT33', 1563, 1002, 19.5, NODE);

addText('Cis motif found in Module 2', 707, 1532, 29, BLACK);
addText('genes', 707, 1568, 29, BLACK);
addText('DAP-seq motif of <i>HSF7</i>', 1206, 1532, 29, BLACK);
addText('(O‘Malley et al. 2016)', 1206, 1568, 29, BLACK);
</script>
</body>
</html>
